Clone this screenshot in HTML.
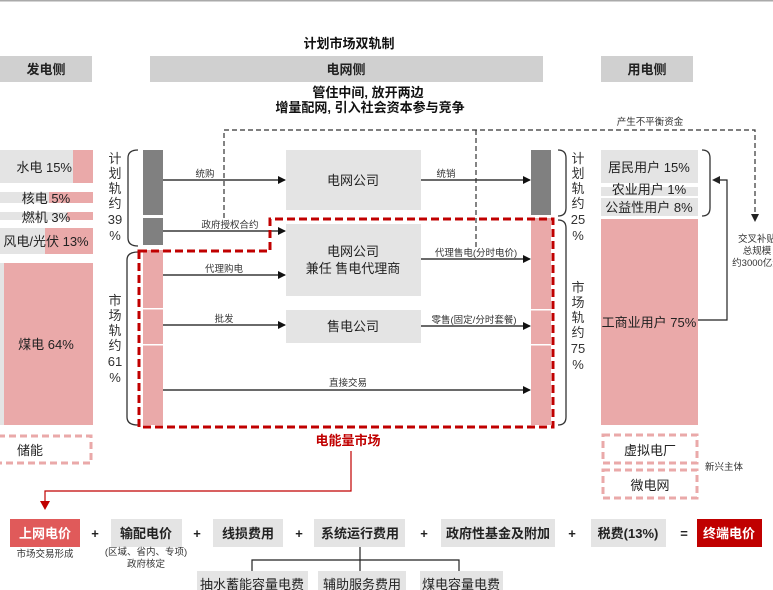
<!DOCTYPE html>
<html><head><meta charset="utf-8"><style>
html,body{margin:0;padding:0;background:#fff;}
svg{display:block;font-family:"Liberation Sans","Noto Sans CJK SC",sans-serif;}
</style></head><body>
<svg width="773" height="590" viewBox="0 0 773 590" xmlns="http://www.w3.org/2000/svg">
<defs>
<marker id="ah" markerWidth="8" markerHeight="8" refX="7" refY="4" orient="auto" markerUnits="userSpaceOnUse"><path d="M0,0 L8,4 L0,8 z" fill="#111"/></marker>
<marker id="ahr" markerWidth="9" markerHeight="9" refX="4.5" refY="8" orient="auto" markerUnits="userSpaceOnUse"><path d="M0,0 L9,0 L4.5,9 z" fill="#c00000" transform="rotate(-90 4.5 4.5)"/></marker>
</defs>
<rect x="0" y="0" width="773" height="1.5" fill="#aaa"/>
<text x="349" y="48" font-size="13" font-weight="bold" text-anchor="middle" fill="#111">计划市场双轨制</text>
<rect x="0" y="56" width="92" height="26" fill="#d0d0d0"/>
<text x="46" y="74" font-size="13" font-weight="bold" text-anchor="middle" fill="#222">发电侧</text>
<rect x="150" y="56" width="393" height="26" fill="#d0d0d0"/>
<text x="346" y="74" font-size="13" font-weight="bold" text-anchor="middle" fill="#222">电网侧</text>
<rect x="601" y="56" width="92" height="26" fill="#d0d0d0"/>
<text x="647" y="74" font-size="13" font-weight="bold" text-anchor="middle" fill="#222">用电侧</text>
<text x="368" y="97" font-size="13" font-weight="bold" text-anchor="middle" fill="#111">管住中间, 放开两边</text>
<text x="370" y="112" font-size="13" font-weight="bold" text-anchor="middle" fill="#111">增量配网, 引入社会资本参与竞争</text>

<!-- generation -->
<rect x="0" y="150" width="73" height="33" fill="#e4e4e4"/><rect x="73" y="150" width="20" height="33" fill="#eaa9a9"/>
<text x="72" y="172" font-size="13" text-anchor="end" fill="#222">水电 15%</text>
<rect x="0" y="192" width="49" height="11" fill="#e4e4e4"/><rect x="49" y="192" width="44" height="11" fill="#eaa9a9"/>
<text x="46" y="203" font-size="13" text-anchor="middle" fill="#222">核电 5%</text>
<rect x="0" y="212" width="67" height="8" fill="#e4e4e4"/><rect x="67" y="212" width="26" height="8" fill="#eaa9a9"/>
<text x="46" y="222" font-size="13" text-anchor="middle" fill="#222">燃机 3%</text>
<rect x="0" y="228" width="45" height="26" fill="#e4e4e4"/><rect x="45" y="228" width="48" height="26" fill="#eaa9a9"/>
<text x="46" y="246" font-size="13" text-anchor="middle" fill="#222">风电/光伏 13%</text>
<rect x="0" y="263" width="4" height="162" fill="#e4e4e4"/><rect x="4" y="263" width="89" height="162" fill="#eaa9a9"/>
<text x="46" y="349" font-size="13" text-anchor="middle" fill="#222">煤电 64%</text>
<rect x="-2" y="436" width="93" height="27" fill="none" stroke="#eaa9a9" stroke-width="3" stroke-dasharray="7,4"/>
<text x="30" y="455" font-size="13" text-anchor="middle" fill="#222">储能</text>

<!-- left braces -->
<g font-size="13" fill="#333" text-anchor="middle">
<text x="115" y="163">计</text><text x="115" y="178">划</text><text x="115" y="193">轨</text><text x="115" y="208">约</text><text x="115" y="224">39</text><text x="115" y="240">%</text>
<text x="115" y="305">市</text><text x="115" y="320">场</text><text x="115" y="335">轨</text><text x="115" y="350">约</text><text x="115" y="366">61</text><text x="115" y="382">%</text>
</g>
<path d="M138,150 Q128,150 128,158 L128,238 Q128,246 138,246" fill="none" stroke="#333" stroke-width="1.3"/>
<path d="M138,252 Q127,252 127,260 L127,417 Q127,425 138,425" fill="none" stroke="#333" stroke-width="1.3"/>
<rect x="143" y="150" width="20" height="65" fill="#808080"/>
<rect x="143" y="218" width="20" height="27" fill="#808080"/>
<rect x="143" y="250" width="20" height="175" fill="#eaa9a9"/>
<rect x="143" y="308" width="20" height="1.5" fill="#fff"/><rect x="143" y="344" width="20" height="1.5" fill="#fff"/>

<!-- center boxes -->
<rect x="286" y="150" width="135" height="60" fill="#e4e4e4"/>
<text x="353" y="185" font-size="13" text-anchor="middle" fill="#222">电网公司</text>
<rect x="286" y="224" width="135" height="72" fill="#e4e4e4"/>
<text x="353" y="256" font-size="13" text-anchor="middle" fill="#222">电网公司</text>
<text x="353" y="273" font-size="13" text-anchor="middle" fill="#222">兼任 售电代理商</text>
<rect x="286" y="310" width="135" height="33" fill="#e4e4e4"/>
<text x="353" y="331" font-size="13" text-anchor="middle" fill="#222">售电公司</text>

<!-- arrows -->
<g stroke="#111" stroke-width="1.2" marker-end="url(#ah)">
<line x1="163" y1="180" x2="285" y2="180"/>
<line x1="163" y1="231" x2="285" y2="231"/>
<line x1="163" y1="275" x2="285" y2="275"/>
<line x1="163" y1="325" x2="285" y2="325"/>
<line x1="163" y1="390" x2="530" y2="390"/>
<line x1="421" y1="180" x2="530" y2="180"/>
<line x1="421" y1="259" x2="530" y2="259"/>
<line x1="421" y1="326" x2="530" y2="326"/>
</g>
<g font-size="9.5" fill="#333" text-anchor="middle">
<text x="205" y="177">统购</text><text x="230" y="228">政府授权合约</text><text x="224" y="272">代理购电</text>
<text x="224" y="322">批发</text><text x="348" y="386">直接交易</text>
<text x="446" y="177">统销</text><text x="476" y="256">代理售电(分时电价)</text><text x="474" y="323">零售(固定/分时套餐)</text>
</g>

<!-- right bars -->
<rect x="531" y="150" width="20" height="65" fill="#808080"/>
<rect x="531" y="218" width="20" height="207" fill="#eaa9a9"/>
<rect x="531" y="309" width="20" height="1.5" fill="#fff"/><rect x="531" y="344" width="20" height="1.5" fill="#fff"/>

<!-- dashed black -->
<path d="M224,218 L224,130 L755,130 L755,216" fill="none" stroke="#333" stroke-width="1.2" stroke-dasharray="5,3"/>
<path d="M751,214 L759,214 L755,222 z" fill="#222"/>
<path d="M476,130 L476,250" fill="none" stroke="#333" stroke-width="1.2" stroke-dasharray="5,3"/>
<text x="650" y="125" font-size="9.5" text-anchor="middle" fill="#333">产生不平衡资金</text>

<!-- red dashed -->
<path d="M139,251 L270,251 L270,219 L553,219 L553,427 L139,427 Z" fill="none" stroke="#c00000" stroke-width="3" stroke-dasharray="8,4"/>
<text x="348" y="445" font-size="13" font-weight="bold" text-anchor="middle" fill="#c00000">电能量市场</text>
<path d="M351,451 L351,491 L45,491 L45,502" fill="none" stroke="#c00000" stroke-width="1.2"/>
<path d="M40,501 L50,501 L45,510 z" fill="#c00000"/>

<!-- right braces -->
<path d="M558,150 Q566,150 566,158 L566,208 Q566,216 558,216" fill="none" stroke="#333" stroke-width="1.3"/>
<path d="M558,220 Q566,220 566,228 L566,417 Q566,425 558,425" fill="none" stroke="#333" stroke-width="1.3"/>
<g font-size="13" fill="#333" text-anchor="middle">
<text x="578" y="163">计</text><text x="578" y="178">划</text><text x="578" y="193">轨</text><text x="578" y="208">约</text><text x="578" y="224">25</text><text x="578" y="240">%</text>
<text x="578" y="292">市</text><text x="578" y="307">场</text><text x="578" y="322">轨</text><text x="578" y="337">约</text><text x="578" y="353">75</text><text x="578" y="369">%</text>
</g>

<!-- users -->
<rect x="601" y="150" width="97" height="33" fill="#e4e4e4"/>
<text x="649" y="172" font-size="13" text-anchor="middle" fill="#222">居民用户 15%</text>
<rect x="601" y="187" width="97" height="9" fill="#e4e4e4"/>
<text x="649" y="194" font-size="13" text-anchor="middle" fill="#222">农业用户 1%</text>
<rect x="601" y="198" width="97" height="18" fill="#e4e4e4"/>
<text x="649" y="212" font-size="13" text-anchor="middle" fill="#222">公益性用户 8%</text>
<rect x="601" y="219" width="97" height="206" fill="#eaa9a9"/>
<text x="649" y="327" font-size="13" text-anchor="middle" fill="#222">工商业用户 75%</text>
<path d="M702,150 Q710,150 710,158 L710,208 Q710,216 702,216" fill="none" stroke="#333" stroke-width="1.3"/>
<path d="M698,320 L727,320 L727,180 L718,180" fill="none" stroke="#222" stroke-width="1.2"/>
<path d="M712,180 L720,176 L720,184 z" fill="#222"/>
<g font-size="9.5" fill="#333" text-anchor="middle">
<text x="757" y="242">交叉补贴</text><text x="757" y="254">总规模</text><text x="757" y="266">约3000亿元</text>
<text x="724" y="470">新兴主体</text>
</g>
<rect x="603" y="435" width="94" height="28" fill="none" stroke="#eaa9a9" stroke-width="3" stroke-dasharray="7,4"/>
<text x="650" y="455" font-size="13" text-anchor="middle" fill="#222">虚拟电厂</text>
<rect x="603" y="470" width="94" height="28" fill="none" stroke="#eaa9a9" stroke-width="3" stroke-dasharray="7,4"/>
<text x="650" y="490" font-size="13" text-anchor="middle" fill="#222">微电网</text>

<!-- bottom formula -->
<rect x="10" y="519" width="70" height="28" fill="#e05a5a"/>
<text x="45" y="538" font-size="13" font-weight="bold" text-anchor="middle" fill="#fff">上网电价</text>
<rect x="111" y="519" width="71" height="28" fill="#e4e4e4"/>
<text x="146" y="538" font-size="13" font-weight="bold" text-anchor="middle" fill="#222">输配电价</text>
<rect x="213" y="519" width="70" height="28" fill="#e4e4e4"/>
<text x="248" y="538" font-size="13" font-weight="bold" text-anchor="middle" fill="#222">线损费用</text>
<rect x="314" y="519" width="91" height="28" fill="#e4e4e4"/>
<text x="360" y="538" font-size="13" font-weight="bold" text-anchor="middle" fill="#222">系统运行费用</text>
<rect x="441" y="519" width="114" height="28" fill="#e4e4e4"/>
<text x="498" y="538" font-size="13" font-weight="bold" text-anchor="middle" fill="#222">政府性基金及附加</text>
<rect x="591" y="519" width="75" height="28" fill="#e4e4e4"/>
<text x="628" y="538" font-size="13" font-weight="bold" text-anchor="middle" fill="#222">税费(13%)</text>
<rect x="697" y="519" width="65" height="28" fill="#c00000"/>
<text x="729" y="538" font-size="13" font-weight="bold" text-anchor="middle" fill="#fff">终端电价</text>
<g font-size="13" font-weight="bold" fill="#222" text-anchor="middle">
<text x="95" y="538">+</text><text x="197" y="538">+</text><text x="299" y="538">+</text><text x="424" y="538">+</text><text x="572" y="538">+</text><text x="684" y="538">=</text>
</g>
<g font-size="9.5" fill="#333" text-anchor="middle">
<text x="45" y="557">市场交易形成</text><text x="146" y="555">(区域、省内、专项)</text><text x="146" y="567">政府核定</text>
</g>
<path d="M360,547 L360,571 M252,571 L252,560 L459,560 L459,571" fill="none" stroke="#222" stroke-width="1.2"/>
<rect x="197" y="571" width="111" height="22" fill="#e4e4e4"/>
<text x="252" y="589" font-size="13" text-anchor="middle" fill="#222">抽水蓄能容量电费</text>
<rect x="318" y="571" width="88" height="22" fill="#e4e4e4"/>
<text x="362" y="589" font-size="13" text-anchor="middle" fill="#222">辅助服务费用</text>
<rect x="420" y="571" width="83" height="22" fill="#e4e4e4"/>
<text x="461" y="589" font-size="13" text-anchor="middle" fill="#222">煤电容量电费</text>
</svg>
</body></html>
